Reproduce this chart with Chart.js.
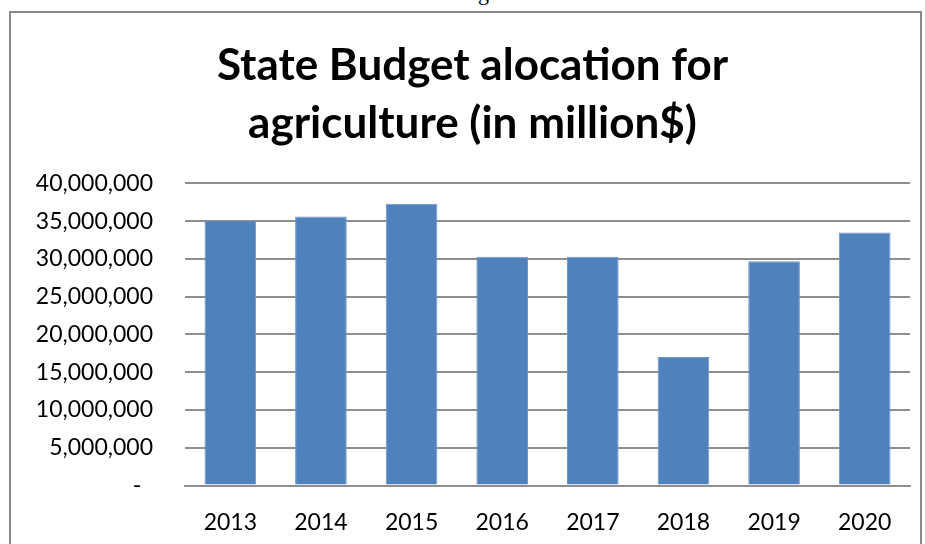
<!DOCTYPE html>
<html>
<head>
<meta charset="utf-8">
<script src="https://cdn.jsdelivr.net/npm/chart.js@4"></script>
<style>
  html, body { margin: 0; padding: 0; background: #fff; overflow: hidden; }
  #page { position: relative; width: 925px; height: 544px; }
  #frame {
    position: absolute; left: 9px; top: 11px; width: 909px; height: 600px;
    border: 2px solid #878787;
  }
  #above {
    position: absolute; left: 478px; top: -18px;
    font: 22px/22px "Liberation Serif", serif; color: #000;
  }
  #chart1 { position: absolute; left: 0; top: 0; }
</style>
</head>
<body>
<div id="page">
  <div id="above">g</div>
  <div id="frame"></div>
  <canvas id="chart1" width="925" height="544"></canvas>
</div>
<script>
const years = ['2013', '2014', '2015', '2016', '2017', '2018', '2019', '2020'];
const budget = [35100000, 35600000, 37300000, 30300000, 30300000, 17000000, 29700000, 33500000];
const yMax = 40000000;
const yStep = 5000000;

const data1 = {
  labels: years,
  datasets: [
    {
      label: 'Budget',
      data: budget,
      backgroundColor: '#4f81bd',
      borderColor: '#6f97c9',
      borderWidth: 1,
      barPercentage: 0.57,
      categoryPercentage: 1,
    }
  ]
};

const config1 = {
  type: 'bar',
  data: data1,
  options: {
    responsive: false,
    animation: false,
    layout: {
      padding: { left: 35, right: 15, top: 0, bottom: 10 }
    },
    plugins: {
      legend: { display: false },
      tooltip: { enabled: false },
      title: {
        display: true,
        text: ['State Budget alocation for', 'agriculture (in million$)'],
        color: '#000',
        font: { family: 'Lato', size: 44, weight: 'bold', lineHeight: 1.311 },
        padding: { top: 37, bottom: 31 }
      }
    },
    scales: {
      x: {
        afterFit: (scale) => { scale.height = 48.5; },
        grid: { display: false, drawTicks: false },
        border: { display: true, color: '#8e8e8e', width: 2 },
        ticks: {
          color: '#000',
          padding: 23,
          font: { family: 'Lato', size: 23 }
        }
      },
      y: {
        min: 0,
        max: yMax,
        afterFit: (scale) => { scale.width = 150; },
        grid: { color: '#8e8e8e', lineWidth: 2, drawTicks: false },
        border: { display: false },
        ticks: {
          stepSize: yStep,
          color: '#000',
          padding: 32,
          font: { family: 'Lato', size: 23 },
          callback: (v) => v === 0 ? '-  ' : v.toLocaleString('en-US')
        }
      }
    }
  }
};

const chart1 = new Chart(document.getElementById('chart1'), config1);
</script>
</body>
</html>
